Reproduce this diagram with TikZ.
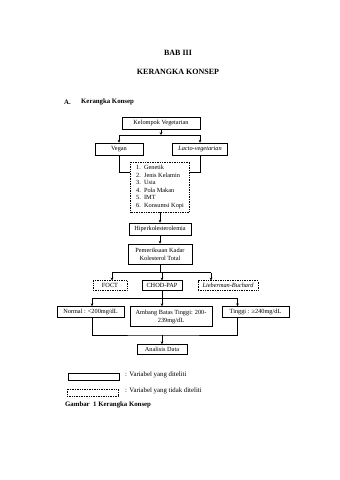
\documentclass[tikz,border=0pt]{standalone}
\usepackage{fontspec}
\setmainfont{Liberation Serif}
\usetikzlibrary{arrows.meta}
\begin{document}
\begin{tikzpicture}[x=1pt,y=-1pt,
  box/.style={draw, line width=0.7pt, inner sep=0pt, font=\fontsize{6.3}{7.3}\selectfont, align=center},
  dbox/.style={box, densely dotted, line width=0.6pt},
  arr/.style={-{Stealth[length=2.8pt,width=2.6pt]}, line width=0.55pt},
  ln/.style={line width=0.55pt},
  head/.style={font=\fontsize{8}{9}\selectfont\bfseries, inner sep=0pt},
  sub/.style={font=\fontsize{6.8}{8}\selectfont\bfseries, inner sep=0pt, anchor=west},
  txt/.style={font=\fontsize{6.8}{8}\selectfont, inner sep=0pt, anchor=west}
]
\useasboundingbox[fill=white] (0,0) rectangle (340,480);

\node[head] (bab) at (178,53) {BAB III};
\node[head] (judul) at (178,71.5) {KERANGKA KONSEP};
\node[sub] (a) at (64,102) {A.};
\node[sub] (ak) at (81,102) {Kerangka Konsep};

\node[box, minimum width=78pt, minimum height=12pt] (kv) at (161,123) {Kelompok Vegetarian};
\node[box, minimum width=48pt, minimum height=12pt] (vegan) at (119,149) {Vegan};
\node[box, minimum width=55pt, minimum height=12pt] (lacto) at (200,149) {\itshape Lacto-vegetarian};
\node[dbox, minimum width=59pt, minimum height=50pt, align=left, font=\fontsize{6.3}{7.6}\selectfont] (fak) at (160,187)
  {1.\ \ Genetik\\2.\ \ Jenis Kelamin\\3.\ \ Usia\\4.\ \ Pola Makan\\5.\ \ IMT\\6.\ \ Konsumsi Kopi};
\node[box, minimum width=62pt, minimum height=12pt] (hip) at (160,229) {Hiperkolesterolemia};
\node[box, minimum width=64pt, minimum height=20pt, font=\fontsize{6.3}{8.3}\selectfont] (pem) at (160,254) {Pemeriksaan Kadar\\Kolesterol Total};
\node[dbox, minimum width=34pt, minimum height=9.5pt] (foct) at (110,285.5) {FOCT};
\node[box, minimum width=40pt, minimum height=9.5pt] (chod) at (162,285.5) {CHOD-PAP};
\node[dbox, minimum width=60pt, minimum height=9.5pt] (lieb) at (228,285.5) {\itshape Lieberman-Buchard};
\node[box, minimum width=67pt, minimum height=11pt] (normal) at (90.5,312) {Normal : <200mg/dL};
\node[box, minimum width=82pt, minimum height=20pt, font=\fontsize{6.3}{8}\selectfont] (ambang) at (171,316.5) {Ambang Batas Tinggi: 200-\\239mg/dL};
\node[box, minimum width=67pt, minimum height=11pt] (tinggi) at (255.5,312) {Tinggi : ≥240mg/dL};
\node[box, minimum width=50pt, minimum height=10pt] (anal) at (162,349.5) {Analisis Data};

\coordinate (j1) at (161,135);
\coordinate (j2) at (160,272.5);
\coordinate (j3) at (162,298);
\coordinate (j4) at (162,335);

\draw[arr] (kv.south) -- (j1);
\draw[ln] (vegan.north |- j1) -- (lacto.north |- j1);
\draw[arr] (vegan.north |- j1) -- (vegan.north);
\draw[arr] (lacto.north |- j1) -- (lacto.north);

\draw[ln] (vegan.south) |- ([yshift=15pt]fak.west);
\draw[ln] (lacto.south) |- ([yshift=15pt]fak.east);

\draw[arr] (fak.south) -- (hip.north);
\draw[arr] (hip.south) -- (pem.north);

\draw[ln] (pem.south) -- (j2);
\draw[ln] ([xshift=2pt]foct.north |- j2) -- ([xshift=-17pt]lieb.north |- j2);
\draw[arr] ([xshift=2pt]foct.north |- j2) -- ([xshift=2pt]foct.north);
\draw[arr] (chod.north |- j2) -- (chod.north);
\draw[arr] ([xshift=-17pt]lieb.north |- j2) -- ([xshift=-17pt]lieb.north);

\draw[ln] (chod.south) -- (j3);
\draw[ln] ([xshift=1.5pt]normal.north |- j3) -- ([xshift=-18pt]tinggi.north |- j3);
\draw[arr] ([xshift=1.5pt]normal.north |- j3) -- ([xshift=1.5pt]normal.north);
\draw[arr] (j3) -- (j3 |- ambang.north);
\draw[arr] ([xshift=-18pt]tinggi.north |- j3) -- ([xshift=-18pt]tinggi.north);

\draw[ln] ([xshift=1.5pt]normal.south) |- (j4) -| ([xshift=-18pt]tinggi.south);
\draw[arr] (j4) -- (anal.north);

\node[draw, line width=0.9pt, minimum width=51pt, minimum height=7pt, inner sep=0pt] (lg1) at (93.5,376.5) {};
\node[draw, densely dotted, line width=0.7pt, minimum width=51pt, minimum height=7pt, inner sep=0pt] (lg2) at (92.5,392.5) {};
\node[txt] (lt1) at (125,374.5) {: Variabel yang diteliti};
\node[txt] (lt2) at (125,390.5) {: Variabel yang tidak diteliti};
\node[sub] (cap) at (65,404.5) {Gambar\ \ 1 Kerangka Konsep};
\end{tikzpicture}
\end{document}
